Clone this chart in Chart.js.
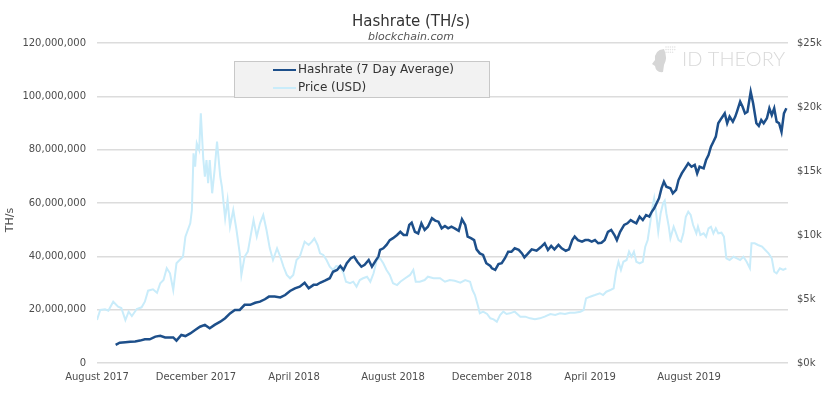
<!DOCTYPE html>
<html>
<head>
<meta charset="utf-8">
<title>Hashrate (TH/s)</title>
<script src="https://cdn.jsdelivr.net/npm/chart.js@4.4.0/dist/chart.umd.min.js"></script>
<style>
  body { margin: 0; background: #fff; }
  canvas { display: block; }
</style>
</head>
<body>
<canvas id="chart" width="839" height="395"></canvas>
<script>
// x values are days since 1 Aug 2017
const tickDays = [0, 122, 243, 365, 487, 608, 730];
const tickLabels = ["August 2017", "December 2017", "April 2018", "August 2018", "December 2018", "April 2019", "August 2019"];
const lastDay = 852;

// Hashrate, 7 day average (millions of TH/s)
const hashDays = [23, 28, 35, 41, 47, 53, 59, 65, 72, 78, 84, 90, 94, 98, 104, 109, 115, 121, 127, 133,
  139, 145, 152, 158, 164, 170, 176, 182, 189, 195, 201, 207, 212, 219, 226, 232, 238, 244, 250, 256,
  261, 267, 271, 275, 281, 287, 291, 296, 300, 304, 308, 313, 317, 321, 326, 330, 335, 339, 344, 347,
  349, 353, 357, 361, 365, 370, 374, 378, 382, 385, 388, 392, 396, 400, 404, 408, 413, 417, 421, 425,
  429, 433, 437, 441, 446, 450, 454, 457, 461, 465, 468, 472, 476, 480, 485, 487, 491, 495, 499, 503,
  507, 511, 515, 520, 524, 527, 531, 536, 542, 547, 552, 556, 560, 564, 569, 573, 578, 582, 586, 589,
  593, 598, 602, 606, 610, 614, 618, 622, 626, 630, 634, 638, 641, 645, 650, 654, 658, 661, 665, 669,
  673, 677, 681, 684, 687, 690, 693, 696, 699, 702, 707, 710, 714, 717, 721, 725, 729, 733, 737, 740,
  743, 748, 751, 754, 757, 760, 763, 766, 770, 774, 777, 780, 784, 787, 789, 793, 796, 799, 802, 806,
  809, 813, 816, 819, 822, 826, 829, 832, 835, 838, 841, 844, 847, 850];
const hashrateM = [6.8, 7.6, 7.8, 8.0, 8.1, 8.4, 8.9, 8.9, 9.9, 10.2, 9.6, 9.6, 9.6, 8.4, 10.5, 10.1, 11.1, 12.4, 13.6, 14.3,
  13.0, 14.3, 15.5, 16.8, 18.6, 19.9, 19.9, 21.8, 21.8, 22.6, 23.0, 23.9, 24.9, 24.9, 24.6, 25.5, 27.0, 28.0, 28.6, 30.1,
  28.0, 29.3, 29.3, 30.1, 30.9, 31.8, 34.2, 34.9, 36.4, 34.9, 37.4, 39.3, 39.9, 38.0, 36.1, 36.8, 38.6, 36.1, 38.6, 39.9,
  42.4, 43.0, 44.3, 46.1, 46.8, 48.0, 49.2, 48.0, 48.0, 51.8, 52.6, 49.2, 48.6, 52.4, 49.9, 51.1, 54.3, 53.4, 53.0, 50.5,
  51.4, 50.5, 51.1, 50.5, 49.6, 53.9, 51.8, 47.4, 46.8, 46.1, 42.6, 41.1, 40.5, 37.4, 36.4, 35.5, 34.9, 37.1, 37.4, 39.3,
  41.7, 41.7, 43.0, 42.4, 41.1, 39.6, 40.9, 42.6, 42.1, 43.4, 44.9, 42.4, 43.9, 42.6, 44.3, 43.0, 42.1, 42.6, 46.1, 47.4,
  46.1, 45.5, 46.1, 46.1, 45.5, 46.1, 44.9, 45.1, 46.1, 49.2, 49.9, 48.0, 46.1, 49.2, 51.8, 52.4, 53.6, 53.0, 52.4, 54.9,
  53.6, 55.5, 54.9, 56.7, 58.0, 59.9, 61.8, 65.5, 68.0, 66.1, 65.5, 63.6, 64.9, 68.6, 71.1, 73.0, 74.9, 73.6, 74.3, 71.1,
  73.6, 73.0, 76.1, 78.0, 81.1, 83.0, 84.9, 89.9, 91.8, 93.6, 89.9, 92.4, 90.5, 92.4, 94.2, 98.0, 96.1, 93.6, 94.2, 101.7,
  97.4, 89.9, 88.9, 91.1, 89.9, 91.8, 95.5, 93.0, 95.5, 90.5, 89.9, 86.7, 93.6, 95.5];

// BTC price (USD)
const priceDays = [0, 4, 10, 14, 20, 26, 30, 35, 39, 43, 49, 55, 59, 63, 69, 74, 78, 82, 86, 90,
  94, 98, 104, 106, 109, 115, 117, 119, 121, 123, 126, 128, 131, 133, 135, 137, 139, 142, 145, 148,
  152, 154, 158, 161, 164, 168, 172, 176, 178, 182, 186, 190, 193, 197, 201, 205, 209, 213, 217, 222,
  226, 230, 234, 238, 242, 246, 250, 256, 261, 265, 268, 272, 275, 279, 283, 287, 291, 295, 300, 304,
  307, 312, 316, 320, 324, 328, 333, 337, 341, 345, 349, 353, 357, 361, 365, 370, 374, 380, 386, 390,
  393, 398, 404, 408, 415, 423, 429, 435, 441, 448, 454, 460, 463, 466, 470, 472, 476, 481, 485, 489,
  493, 497, 501, 505, 509, 515, 522, 528, 534, 540, 546, 552, 559, 565, 571, 577, 583, 589, 596, 600,
  603, 608, 614, 620, 624, 628, 633, 637, 640, 643, 646, 649, 653, 656, 659, 662, 665, 669, 673, 676,
  679, 682, 685, 687, 689, 692, 695, 698, 700, 702, 705, 707, 711, 714, 717, 720, 723, 726, 729, 732,
  735, 739, 741, 744, 748, 751, 754, 757, 760, 763, 766, 770, 773, 776, 780, 785, 789, 793, 797, 801,
  805, 807, 811, 815, 820, 824, 828, 832, 835, 838, 842, 846, 850];
const priceUsd = [3360, 4140, 4200, 4090, 4790, 4400, 4300, 3360, 4010, 3670, 4220, 4350, 4790, 5650, 5760, 5490, 6230, 6480, 7400, 7010,
  5700, 7790, 8180, 8300, 9870, 10910, 11950, 16380, 15340, 17160, 16640, 19510, 15990, 14550, 15860, 14040, 15860, 13260, 15080, 17290,
  14550, 13770, 11300, 12730, 10650, 11950, 10390, 8570, 6880, 8300, 8700, 10130, 11170, 9870, 10910, 11560, 10390, 8980, 8050, 8960,
  8300, 7520, 6880, 6620, 6880, 8050, 8300, 9480, 9220, 9480, 9740, 9220, 8570, 8440, 8050, 7520, 7270, 7580, 7520, 7010,
  6350, 6230, 6350, 5960, 6480, 6620, 6740, 6350, 7010, 8050, 8180, 7790, 7270, 6880, 6230, 6090, 6350, 6620, 6880, 7270,
  6350, 6350, 6480, 6740, 6620, 6620, 6350, 6480, 6430, 6270, 6480, 6350, 5700, 5310, 4400, 3880, 4010, 3830, 3490, 3410,
  3230, 3750, 4010, 3830, 3880, 4010, 3620, 3620, 3490, 3410, 3490, 3620, 3830, 3750, 3880, 3830, 3930, 3930, 4010, 4140,
  5050, 5180, 5310, 5450, 5310, 5570, 5700, 5840, 7130, 7910, 7270, 7910, 8050, 8700, 8300, 8700, 7910, 7790, 7910, 9090,
  9610, 10910, 12210, 12870, 11950, 10260, 11700, 12480, 12680, 11700, 10650, 9740, 10650, 10130, 9610, 9480, 10130, 11430, 11820, 11560,
  10780, 10130, 10650, 10000, 10130, 9870, 10520, 10650, 10130, 10520, 10130, 10180, 9870, 8180, 8050, 8300, 8180, 8050, 8300, 7910,
  7400, 9350, 9350, 9220, 9090, 8830, 8570, 8180, 7130, 7010, 7400, 7270, 7400];

const hashColor = "#1d4f8a";
const priceColor = "#c9ecfa";
const textColor = "#4d4d4d";
const fontFamily = "'DejaVu Sans', sans-serif";

// Title, legend box, y title and logo drawn straight on the canvas
const decorations = {
  id: "decorations",
  afterDraw(chart) {
    const ctx = chart.ctx;
    ctx.save();

    ctx.fillStyle = "#333";
    ctx.textAlign = "center";
    ctx.textBaseline = "middle";
    ctx.font = "15px " + fontFamily;
    ctx.fillText("Hashrate (TH/s)", 411, 22);
    ctx.font = "italic 11px " + fontFamily;
    ctx.fillStyle = "#555";
    ctx.fillText("blockchain.com", 411, 37);

    // y axis title
    ctx.save();
    ctx.translate(10, 220);
    ctx.rotate(-Math.PI / 2);
    ctx.font = "11px " + fontFamily;
    ctx.fillStyle = textColor;
    ctx.fillText("TH/s", 0, 0);
    ctx.restore();

    // legend box
    ctx.fillStyle = "#f2f2f2";
    ctx.fillRect(234.5, 61.5, 255, 36);
    ctx.strokeStyle = "#c8c8c8";
    ctx.lineWidth = 1;
    ctx.strokeRect(234.5, 61.5, 255, 36);
    const items = [["Hashrate (7 Day Average)", hashColor, 70], ["Price (USD)", priceColor, 88]];
    ctx.textAlign = "left";
    ctx.font = "12px " + fontFamily;
    items.forEach(([label, color, y]) => {
      ctx.strokeStyle = color;
      ctx.lineWidth = 2;
      ctx.beginPath();
      ctx.moveTo(273, y);
      ctx.lineTo(296, y);
      ctx.stroke();
      ctx.fillStyle = "#333";
      ctx.fillText(label, 298, y);
    });

    // ID THEORY logo
    ctx.fillStyle = "#d6d6d6";
    ctx.beginPath();
    ctx.moveTo(664, 49);
    ctx.quadraticCurveTo(654, 50, 655, 60);
    ctx.lineTo(652, 64);
    ctx.lineTo(655, 66);
    ctx.quadraticCurveTo(656, 73, 663, 72);
    ctx.lineTo(664, 65);
    ctx.quadraticCurveTo(668, 58, 664, 49);
    ctx.fill();
    ctx.fillStyle = "#e4e4e4";
    for (let i = 0; i < 14; i++) {
      ctx.beginPath();
      ctx.arc(666 + (i % 5) * 2.2, 47 + Math.floor(i / 5) * 2.6, 0.8, 0, Math.PI * 2);
      ctx.fill();
    }
    ctx.fillStyle = "#d9d9d9";
    ctx.font = "300 20px Lato, sans-serif";
    ctx.textBaseline = "alphabetic";
    ctx.fillText("ID THEORY", 682, 66);

    ctx.restore();
  }
};

new Chart(document.getElementById("chart"), {
  type: "line",
  data: {
    datasets: [
      {
        label: "Hashrate (7 Day Average)",
        data: hashDays.map((d, i) => ({ x: d, y: hashrateM[i] * 1e6 })),
        borderColor: hashColor,
        borderWidth: 2.5,
        pointRadius: 0,
        yAxisID: "y",
        tension: 0
      },
      {
        label: "Price (USD)",
        data: priceDays.map((d, i) => ({ x: d, y: priceUsd[i] })),
        borderColor: priceColor,
        borderWidth: 2,
        pointRadius: 0,
        yAxisID: "y1",
        tension: 0
      }
    ]
  },
  options: {
    responsive: false,
    animation: false,
    layout: { padding: { top: 43, left: 0, right: 0, bottom: 0 } },
    plugins: {
      legend: { display: false },
      title: { display: false },
      tooltip: { enabled: false }
    },
    scales: {
      x: {
        type: "linear",
        min: 0,
        max: lastDay,
        grid: { display: false, drawTicks: false },
        border: { display: false },
        afterBuildTicks: axis => { axis.ticks = tickDays.map(v => ({ value: v })); },
        afterFit: axis => { axis.height = 32; },
        ticks: {
          autoSkip: false,
          maxRotation: 0,
          padding: 8,
          color: textColor,
          font: { family: fontFamily, size: 10 },
          callback: v => tickLabels[tickDays.indexOf(v)]
        }
      },
      y: {
        position: "left",
        min: 0,
        max: 120000000,
        grid: { color: "#dcdcdc", lineWidth: 1.5, drawTicks: false },
        border: { display: false },
        afterFit: axis => { axis.width = 97; },
        ticks: {
          stepSize: 20000000,
          padding: 11,
          color: textColor,
          font: { family: fontFamily, size: 10 },
          callback: v => v.toLocaleString("en-US")
        }
      },
      y1: {
        position: "right",
        min: 0,
        max: 25000,
        grid: { display: false, drawTicks: false },
        border: { display: false },
        afterFit: axis => { axis.width = 51; },
        ticks: {
          stepSize: 5000,
          padding: 9,
          color: textColor,
          font: { family: fontFamily, size: 10 },
          callback: v => "$" + (v / 1000) + "k"
        }
      }
    }
  },
  plugins: [decorations]
});
</script>
</body>
</html>
